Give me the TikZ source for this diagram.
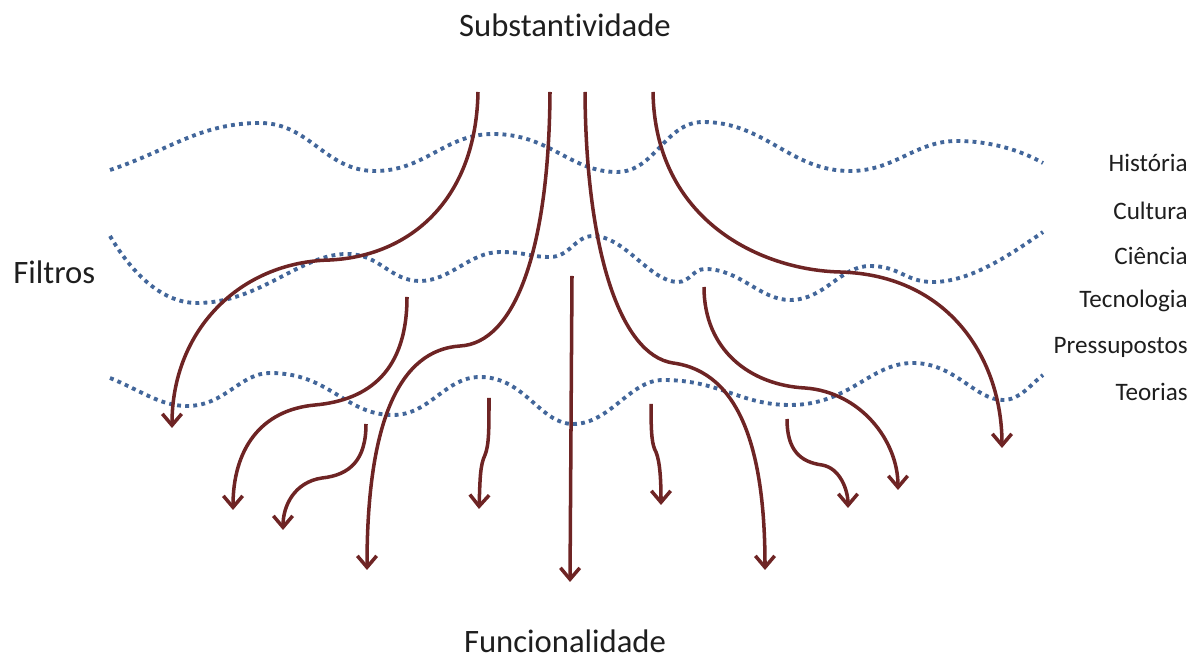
\documentclass[tikz,border=0pt]{standalone}
\usepackage{fontspec}
\setmainfont{Carlito}[RawFeature={-liga;-clig;-calt;-dlig}]
\usetikzlibrary{arrows.meta}
\definecolor{flow}{RGB}{110,36,36}
\definecolor{filt}{RGB}{66,102,154}
\definecolor{txt}{RGB}{30,30,30}
\begin{document}
\begin{tikzpicture}[x=0.02cm,y=-0.02cm,
  wave/.style={filt,line width=2.2pt,line cap=butt,dash pattern=on 2.2pt off 2.4pt},
  flowarrow/.style={flow,line width=2pt,-{Straight Barb[length=6.5pt,width=11pt]}},
  title/.style={font=\fontsize{18.6}{20}\selectfont,text=txt,inner sep=0pt},
  lab/.style={font=\fontsize{14.3}{16}\selectfont,text=txt,anchor=east,inner sep=0pt}]
\useasboundingbox (0,0) rectangle (1200,661);
% texts
\node[title] (sub) at (565,25) {Substantividade};
\node[title,anchor=base] (fun) at (565,653) {Funcionalidade};
\node[title,anchor=west] (fil) at (13,272) {Filtros};
\node[lab] (h) at (1188,163) {História};
\node[lab] (c) at (1188,211) {Cultura};
\node[lab] (ci) at (1188,256) {Ciência};
\node[lab] (te) at (1188,301) {Tecnologia};
\node[lab] (p) at (1188,347) {Pressupostos};
\node[lab] (t) at (1188,392) {Teorias};
% filter waves
\draw[wave] (110,170) .. controls (170,150) and (200,123) .. (260,123)
  .. controls (310,123) and (325,171) .. (375,171)
  .. controls (425,171) and (445,134) .. (493,134)
  .. controls (550,134) and (570,172) .. (617,172)
  .. controls (655,172) and (665,122) .. (703,122)
  .. controls (765,122) and (790,171) .. (850,171)
  .. controls (895,171) and (915,141) .. (957,141)
  .. controls (990,141) and (1020,150) .. (1043,163);
\draw[wave] (110,236) .. controls (130,270) and (160,303) .. (197,303)
  .. controls (260,303) and (300,254) .. (347,254)
  .. controls (380,254) and (390,281) .. (420,281)
  .. controls (450,281) and (470,252) .. (500,252)
  .. controls (525,252) and (530,257) .. (550,257)
  .. controls (570,257) and (575,236) .. (593,236)
  .. controls (625,236) and (650,282) .. (678,282)
  .. controls (690,282) and (693,269) .. (705,269)
  .. controls (740,269) and (760,300) .. (790,300)
  .. controls (825,300) and (840,266) .. (870,266)
  .. controls (900,266) and (905,282) .. (933,282)
  .. controls (970,282) and (1010,255) .. (1043,232);
\draw[wave] (110,378) .. controls (140,390) and (160,406) .. (187,406)
  .. controls (225,406) and (240,373) .. (270,373)
  .. controls (330,373) and (345,415) .. (393,415)
  .. controls (430,415) and (445,377) .. (480,377)
  .. controls (525,377) and (540,424) .. (573,424)
  .. controls (610,424) and (630,380) .. (663,380)
  .. controls (720,380) and (740,405) .. (790,405)
  .. controls (850,405) and (870,363) .. (913,363)
  .. controls (955,363) and (975,400) .. (1003,400)
  .. controls (1020,400) and (1030,385) .. (1043,375);
% arrow coordinates
\coordinate (a0) at (478,92);  \coordinate (a1) at (330,260); \coordinate (a2) at (172,428);
\coordinate (b0) at (550,92);  \coordinate (b1) at (460,346); \coordinate (b2) at (367,570);
\coordinate (c0) at (572,276); \coordinate (c2) at (570,582);
\coordinate (d0) at (585,92);  \coordinate (d1) at (673,363); \coordinate (d2) at (765,570);
\coordinate (e0) at (653,92);  \coordinate (e1) at (840,272); \coordinate (e2) at (1002,448);
\coordinate (f0) at (407,297); \coordinate (f1) at (315,405); \coordinate (f2) at (233,510);
\coordinate (g0) at (366,424); \coordinate (g1) at (322,478); \coordinate (g2) at (283,530);
\coordinate (h0) at (489,398); \coordinate (h1) at (485,455); \coordinate (h2) at (479,509);
\coordinate (i0) at (651,404); \coordinate (i1) at (656,452); \coordinate (i2) at (661,505);
\coordinate (j0) at (704,287); \coordinate (j1) at (805,388); \coordinate (j2) at (898,490);
\coordinate (k0) at (787,419); \coordinate (k1) at (822,465); \coordinate (k2) at (848,508);
% flow arrows
\draw[flowarrow] (a0) .. controls (476,200) and (410,256) .. (a1) .. controls (240,262) and (172,330) .. (a2);
\draw[flowarrow] (b0) .. controls (549,250) and (515,343) .. (b1) .. controls (400,350) and (367,420) .. (b2);
\draw[flowarrow] (c0) -- (c2);
\draw[flowarrow] (d0) .. controls (586,250) and (620,355) .. (d1) .. controls (740,372) and (765,450) .. (d2);
\draw[flowarrow] (e0) .. controls (655,220) and (760,270) .. (e1) .. controls (950,275) and (1002,360) .. (e2);
\draw[flowarrow] (f0) .. controls (407,370) and (370,400) .. (f1) .. controls (260,410) and (233,450) .. (f2);
\draw[flowarrow] (g0) .. controls (366,460) and (350,475) .. (g1) .. controls (295,482) and (283,505) .. (g2);
\draw[flowarrow] (h0) .. controls (489,430) and (489,445) .. (h1) .. controls (480,465) and (480,480) .. (h2);
\draw[flowarrow] (i0) .. controls (651,435) and (652,445) .. (i1) .. controls (660,462) and (661,480) .. (i2);
\draw[flowarrow] (j0) .. controls (704,350) and (750,385) .. (j1) .. controls (860,392) and (898,440) .. (j2);
\draw[flowarrow] (k0) .. controls (787,450) and (800,462) .. (k1) .. controls (840,468) and (848,490) .. (k2);
\end{tikzpicture}
\end{document}
